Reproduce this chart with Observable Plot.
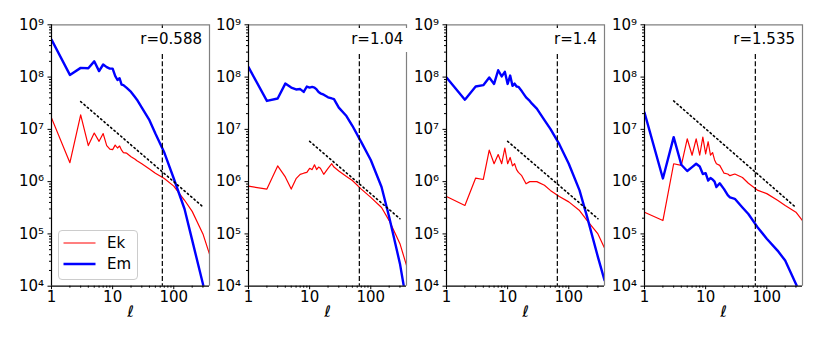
<!DOCTYPE html>
<html>
<head>
<meta charset="utf-8">
<script src="https://cdn.jsdelivr.net/npm/d3@7"></script>
<script src="https://cdn.jsdelivr.net/npm/@observablehq/plot@0.6"></script>
<style>
  html, body { margin: 0; padding: 0; background: white; }
  #wrap { position: relative; width: 822px; height: 343px; background: white; overflow: hidden; font-family: "DejaVu Sans", sans-serif; }
  #wrap svg.panel { position: absolute; top: 0; }
  .rbox { position: absolute; top: 28px; height: 23.5px; line-height: 23.5px; padding: 0 5px; background: white; font-size: 15px; color: black; white-space: nowrap; }
  #legend { position: absolute; left: 58px; top: 230px; width: 78px; height: 48px; border: 1px solid #cccccc; border-radius: 4px; background: rgba(255,255,255,0.8); }
</style>
</head>
<body>
<div id="wrap"></div>
<script>
// spherical-harmonic degree samples (shared by all panels)
const ell = [1,2,3,4,5,6,7,8,9,10,11,12,13,14,15,17,20,23,25,30,40,50,70,100,150,200,300,384];

// panel 1: r = 0.588
const ek1 = [1.66e7,2.3e6,1.9e7,4.9e6,8.5e6,5.9e6,8.3e6,4.9e6,4.2e6,4.1e6,5.0e6,4.4e6,4.8e6,4.0e6,3.6e6,3.5e6,3.0e6,2.7e6,2.5e6,2.2e6,1.75e6,1.45e6,1.15e6,8.2e5,4.4e5,2.7e5,1.0e5,4.1e4];
const em1 = [5.2e8,1.1e8,1.5e8,1.48e8,2.0e8,1.3e8,1.74e8,1.55e8,1.45e8,1.45e8,1.05e8,8.8e7,9.5e7,7.2e7,7.0e7,6.2e7,5.2e7,4.2e7,3.7e7,2.6e7,1.5e7,8.3e6,3.6e6,1.15e6,3.0e5,7.6e4,1.1e4,3.0e3];
// panel 2: r = 1.04
const ek2 = [8.2e5,7.2e5,2.0e6,1.23e6,7.2e5,1.14e6,1.38e6,1.45e6,1.5e6,1.8e6,1.7e6,2.1e6,1.7e6,1.9e6,1.8e6,1.38e6,1.8e6,2.2e6,1.9e6,1.6e6,1.25e6,1.05e6,7.2e5,5.0e5,3.2e5,1.8e5,6.5e4,2.5e4];
const em2 = [1.55e8,3.5e7,3.9e7,7.5e7,6.3e7,5.8e7,5.9e7,5.2e7,6.6e7,6.3e7,6.5e7,6.3e7,5.8e7,5.2e7,4.9e7,4.6e7,4.1e7,3.9e7,3.8e7,2.6e7,1.8e7,1.17e7,5.7e6,2.6e6,7.9e5,2.1e5,2.7e4,5.0e3];
// panel 3: r = 1.4
const ek3 = [5.2e5,3.5e5,1.17e6,1.1e6,4.0e6,2.2e6,3.3e6,2.2e6,4.4e6,2.2e6,2.9e6,2.0e6,2.2e6,1.7e6,1.5e6,1.3e6,9.1e5,1.0e6,1.0e6,1.0e6,8.5e5,6.8e5,5.2e5,4.1e5,2.8e5,1.8e5,1.0e5,5.4e4];
const em3 = [9.8e7,3.7e7,6.6e7,7.0e7,9.8e7,7.4e7,1.35e8,1.03e8,1.26e8,7.4e7,1.07e8,6.8e7,7.5e7,6.6e7,6.5e7,5.4e7,4.1e7,3.5e7,3.1e7,2.5e7,1.5e7,1.02e7,5.2e6,2.2e6,6.8e5,2.1e5,3.6e4,1.3e4];
// panel 4: r = 1.535
const ek4 = [2.6e5,1.8e5,2.2e6,2.05e6,6.6e6,3.2e6,6.6e6,3.2e6,7.1e6,3.4e6,5.8e6,3.2e6,3.6e6,2.6e6,2.2e6,2.05e6,1.45e6,1.4e6,1.3e6,1.4e6,1.2e6,9.3e5,6.9e5,5.9e5,4.4e5,3.5e5,2.6e5,1.8e5];
const em4 = [2.1e7,1.15e6,7.1e6,2.1e6,1.6e6,1.9e6,2.2e6,1.95e6,1.4e6,1.45e6,1.05e6,1.17e6,1.1e6,1.0e6,7.9e5,9.3e5,7.2e5,5.5e5,5.0e5,4.7e5,3.2e5,2.4e5,1.36e5,8.1e4,4.8e4,3.1e4,1.1e4,6.0e3];

// reference power-law guides (dotted), endpoints
const guideL1 = [3, 300],  guideV1 = [3.4e7, 3.3e5];
const guideL2 = [10, 300], guideV2 = [5.9e6, 1.95e5];
const guideL3 = [10, 300], guideV3 = [5.9e6, 1.95e5];
const guideL4 = [3, 300],  guideV4 = [3.5e7, 3.2e5];

const rLabels = ["r=0.588", "r=1.04", "r=1.4", "r=1.535"];
const ellCut = 65;

const xDomain = [1, 384];
const yDomain = [1e4, 1e9];
const xTicks = [1, 10, 100];
const yTicks = [1e4, 1e5, 1e6, 1e7, 1e8, 1e9];
const seriesNames = ["Ek", "Em"];

// ---- build ----
const xMinor = [];
for (const b of [1, 10, 100]) for (let k = 2; k <= 9; k++) if (b * k <= xDomain[1]) xMinor.push(b * k);
const yMinor = [];
for (const b of [1e4, 1e5, 1e6, 1e7, 1e8]) for (let k = 2; k <= 9; k++) yMinor.push(b * k);

const sup = "⁰¹²³⁴⁵⁶⁷⁸⁹";
const fmtPow = d => "10" + String(Math.round(Math.log10(d))).split("").map(c => sup[+c]).join("");

const panels = [
  {ek: ek1, em: em1, gl: guideL1, gv: guideV1},
  {ek: ek2, em: em2, gl: guideL2, gv: guideV2},
  {ek: ek3, em: em3, gl: guideL3, gv: guideV3},
  {ek: ek4, em: em4, gl: guideL4, gv: guideV4}
];
const lefts = [0, 197, 395, 593];
const textRight = [202, 403.3, 596.7, 795];

const wrap = document.getElementById("wrap");

panels.forEach((p, i) => {
  const ekData = ell.map((l, j) => ({l, v: p.ek[j]}));
  const emData = ell.map((l, j) => ({l, v: p.em[j]}));
  const guide = p.gl.map((l, j) => ({l, v: p.gv[j]}));
  const chart = Plot.plot({
    width: 210,
    height: 343,
    marginLeft: 51,
    marginRight: 1,
    marginTop: 24.3,
    marginBottom: 57.3,
    style: {background: "transparent", overflow: "visible", fontFamily: "DejaVu Sans", fontSize: "15px", color: "black"},
    x: {type: "log", domain: xDomain},
    y: {type: "log", domain: yDomain},
    marks: [
      Plot.line(ekData, {x: "l", y: "v", stroke: "#ff0000", strokeWidth: 1.2, clip: true}),
      Plot.line(emData, {x: "l", y: "v", stroke: "#0000ff", strokeWidth: 2.4, clip: true}),
      Plot.line(guide, {x: "l", y: "v", stroke: "black", strokeWidth: 1.6, strokeDasharray: "1.4,3"}),
      Plot.ruleX([ellCut], {stroke: "black", strokeWidth: 1.2, strokeDasharray: "5,2.4"}),
      Plot.axisX({ticks: xMinor, tickSize: 2, tickFormat: () => "", label: null}),
      Plot.axisX({ticks: xTicks, tickSize: 3.5, tickPadding: 2, tickFormat: d => String(d), fontSize: 15, label: null}),
      Plot.axisY({ticks: yMinor, tickSize: 2, tickFormat: () => "", label: null}),
      Plot.axisY({ticks: yTicks, tickSize: 3.5, tickPadding: 4, tickFormat: fmtPow, fontSize: 15, label: null}),
      Plot.ruleY([yDomain[1]], {stroke: "#808080", strokeWidth: 1.2}),
      Plot.ruleX([xDomain[1]], {stroke: "#808080", strokeWidth: 1.2}),
      Plot.ruleX([xDomain[0]], {stroke: "black", strokeWidth: 1.2}),
      Plot.ruleY([yDomain[0]], {stroke: "black", strokeWidth: 1.2}),
      Plot.text(["ℓ"], {text: d => d, frameAnchor: "bottom", dy: 26, fontSize: 16, fontStyle: "italic", lineAnchor: "middle"})
    ]
  });
  chart.classList.add("panel");
  chart.style.left = lefts[i] + "px";
  wrap.appendChild(chart);

  const box = document.createElement("div");
  box.className = "rbox";
  box.textContent = rLabels[i];
  box.style.right = (822 - textRight[i] - 5) + "px";
  wrap.appendChild(box);
});

// legend
const leg = document.createElement("div");
leg.id = "legend";
const colors = ["#ff0000", "#0000ff"];
const widths = [1.2, 2.4];
let svgL = '<svg width="78" height="48" style="display:block;overflow:visible">';
seriesNames.forEach((n, j) => {
  const y = 12 + j * 21;
  svgL += `<line x1="4.5" x2="36.5" y1="${y}" y2="${y}" stroke="${colors[j]}" stroke-width="${widths[j]}"/>`;
  svgL += `<text x="48" y="${y}" dy="0.36em" font-family="DejaVu Sans" font-size="15" fill="black">${n}</text>`;
});
svgL += '</svg>';
leg.innerHTML = svgL;
wrap.appendChild(leg);
</script>
</body>
</html>
